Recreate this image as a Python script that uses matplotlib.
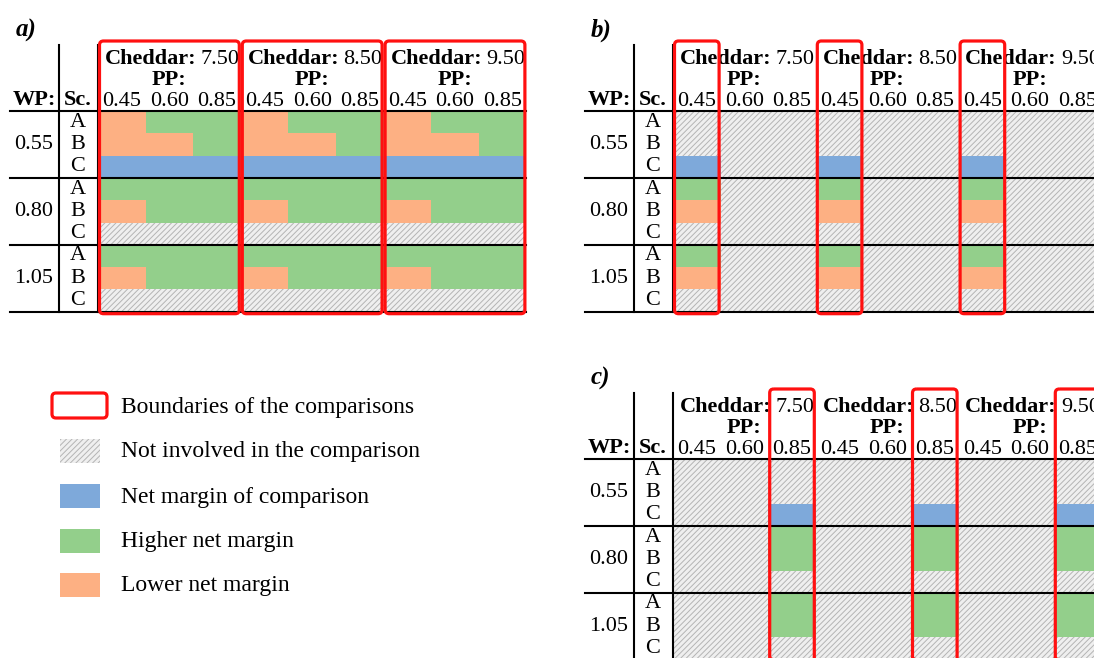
import matplotlib.pyplot as plt
from matplotlib.patches import Rectangle, FancyBboxPatch

plt.rcParams['font.family'] = 'Liberation Serif'
plt.rcParams['hatch.linewidth'] = 0.7

cheddar = ["7.50", "8.50", "9.50"]
pp = ["0.45", "0.60", "0.85"]
wp = ["0.55", "0.80", "1.05"]
sc = ["A", "B", "C"]

# one cheddar block: rows = WP x Sc (A,B,C), columns = PP
# N = net margin of comparison, H = higher, L = lower, X = not involved
block_a = ["LHH", "LLH", "NNN", "HHH", "LHH", "XXX", "HHH", "LHH", "XXX"]
block_b = ["XXX", "XXX", "NXX", "HXX", "LXX", "XXX", "HXX", "LXX", "XXX"]
block_c = ["XXX", "XXX", "XXN", "XXH", "XXH", "XXX", "XXH", "XXH", "XXX"]

# columns framed in red (first column, number of columns) per cheddar block
frames_a = [(0, 3), (3, 3), (6, 3)]
frames_b = [(0, 1), (3, 1), (6, 1)]
frames_c = [(2, 1), (5, 1), (8, 1)]

legend_labels = ["Boundaries of the comparisons", "Not involved in the comparison",
                 "Net margin of comparison", "Higher net margin", "Lower net margin"]
legend_codes = ["box", "X", "N", "H", "L"]

colors = {"N": "#7ea9da", "H": "#93cf8b", "L": "#fdb083"}
hatch_face = "#efefef"
hatch_line = "#b4b4b4"
red = "#ff1010"

CW = 47.6   # column width (px)
RH = 22.3   # sub-row height (px)
FS = 16

fig = plt.figure(figsize=(10.94, 6.58), dpi=100)
ax = fig.add_axes([0, 0, 1, 1])
ax.set_xlim(0, 1094)
ax.set_ylim(658, 0)
ax.axis('off')


def cell(x, y, w, h, code):
    if code == "X":
        ax.add_patch(Rectangle((x, y), w, h, facecolor=hatch_face, edgecolor=hatch_line,
                               hatch='//////', lw=0, zorder=1))
    else:
        ax.add_patch(Rectangle((x, y), w, h, facecolor=colors[code], lw=0, zorder=1))


def red_box(x, y, w, h):
    ax.add_patch(FancyBboxPatch((x, y), w, h, boxstyle="round,pad=0,rounding_size=4",
                                fill=False, edgecolor=red, lw=2.3, zorder=6))


def panel(x0, yh, block, frames, label):
    # cells
    for r, row in enumerate(block):
        for b in range(3):
            for c, code in enumerate(row):
                cell(x0 + (b * 3 + c) * CW, yh + r * RH, CW, RH, code)
    # black grid lines
    for g in range(4):
        ax.plot([x0 - 88, x0 + 9 * CW], [yh + g * 3 * RH] * 2, color='black', lw=1.5, zorder=3)
    for xv in [x0 - 39, x0]:
        ax.plot([xv, xv], [yh - 66, yh + 9 * RH], color='black', lw=1.5, zorder=3)
    # header
    for b in range(3):
        cx = x0 + (b * 3 + 1.5) * CW
        ax.text(cx + 27, yh - 52, "Cheddar:", ha='right', va='center', fontsize=FS, fontweight='bold', zorder=4)
        ax.text(cx + 31, yh - 52, cheddar[b], ha='left', va='center', fontsize=FS, zorder=4)
        ax.text(cx, yh - 31, "PP:", ha='center', va='center', fontsize=FS, fontweight='bold', zorder=4)
        for c in range(3):
            ax.text(x0 + (b * 3 + c + 0.5) * CW, yh - 10, pp[c], ha='center', va='center',
                    fontsize=FS, zorder=4)
    ax.text(x0 - 64, yh - 11, "WP:", ha='center', va='center', fontsize=FS, fontweight='bold')
    ax.text(x0 - 20, yh - 11, "Sc.", ha='center', va='center', fontsize=FS, fontweight='bold')
    for g in range(3):
        ax.text(x0 - 64, yh + (3 * g + 1.5) * RH, wp[g], ha='center', va='center', fontsize=FS)
        for s in range(3):
            ax.text(x0 - 20, yh + (3 * g + s + 0.5) * RH, sc[s], ha='center', va='center', fontsize=FS)
    ax.text(x0 - 82, yh - 81, label, ha='left', va='center', fontsize=FS + 2,
            fontweight='bold', fontstyle='italic')
    for start, n in frames:
        red_box(x0 + start * CW + 1.5, yh - 70, n * CW - 3, 9 * RH + 72)


panel(98, 111, block_a, frames_a, "a)")
panel(673, 111, block_b, frames_b, "b)")
panel(673, 459, block_c, frames_c, "c)")

# legend
ly = [406, 451, 496, 541, 585]
for y, code, text in zip(ly, legend_codes, legend_labels):
    if code == "box":
        red_box(52, y - 13, 55, 25)
    else:
        cell(60, y - 12, 40, 24, code)
    ax.text(121, y + 1, text, ha='left', va='center', fontsize=17)

fig.savefig("out.png", dpi=100)
